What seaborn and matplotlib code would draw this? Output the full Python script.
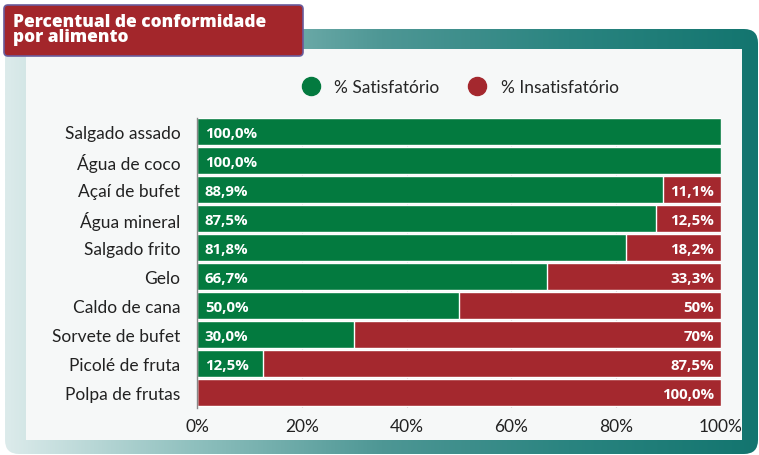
import matplotlib
matplotlib.use('Agg')
import matplotlib.pyplot as plt
import seaborn as sns
import numpy as np
import pandas as pd
from matplotlib.colors import LinearSegmentedColormap
from matplotlib.patches import FancyBboxPatch, Rectangle
from matplotlib.lines import Line2D

# data
categories = ['Salgado assado', 'Água de coco', 'Açaí de bufet', 'Água mineral',
              'Salgado frito', 'Gelo', 'Caldo de cana', 'Sorvete de bufet',
              'Picolé de fruta', 'Polpa de frutas']
satisfatorio = [100, 100, 88.9, 87.5, 81.8, 66.7, 50, 30, 12.5, 0]
insatisfatorio = [0, 0, 11.1, 12.5, 18.2, 33.3, 50, 70, 87.5, 100]
sat_labels = ['100,0%', '100,0%', '88,9%', '87,5%', '81,8%', '66,7%',
              '50,0%', '30,0%', '12,5%', '']
ins_labels = ['', '', '11,1%', '12,5%', '18,2%', '33,3%', '50%', '70%',
              '87,5%', '100,0%']
xticks = [0, 20, 40, 60, 80, 100]
xtick_labels = ['0%', '20%', '40%', '60%', '80%', '100%']

green = '#037a3f'
red = '#a4282e'

sns.set_style('white')
plt.rcParams['font.family'] = ['Open Sans', 'DejaVu Sans']

W, H = 759, 456
fig = plt.figure(figsize=(W / 100, H / 100), dpi=100)
fig.patch.set_facecolor('white')

# background frame
bg = fig.add_axes([0, 0, 1, 1])
bg.set_xlim(0, W)
bg.set_ylim(H, 0)
bg.axis('off')
cmap = LinearSegmentedColormap.from_list(
    'frame', ['#dcebeb', '#8fc0be', '#4e9795', '#2a8480', '#13756f'])
grad = np.linspace(0, 1, 256).reshape(1, -1)
frame = FancyBboxPatch((5, 30), 753, 425, boxstyle='round,pad=0,rounding_size=14',
                       facecolor='none', edgecolor='none')
bg.add_patch(frame)
img = bg.imshow(grad, cmap=cmap, extent=[5, 758, 455, 30], aspect='auto')
img.set_clip_path(frame)
bg.add_patch(Rectangle((26, 50), 716, 391, facecolor='#f6f8f8', edgecolor='none'))

# title box
title_box = FancyBboxPatch((4, 6), 299, 51, boxstyle='round,pad=0,rounding_size=4',
                           facecolor='#a3262b', edgecolor='#6a5c9c', linewidth=1.2)
bg.add_patch(title_box)
bg.text(13, 30, 'Percentual de conformidade\npor alimento', color='white',
        fontsize=12.4, fontweight='heavy', va='center', ha='left',
        linespacing=0.85)

# legend
handles = [Line2D([], [], marker='o', linestyle='', color=green, markersize=13),
           Line2D([], [], marker='o', linestyle='', color=red, markersize=13)]
fig.legend(handles, ['% Satisfatório', '% Insatisfatório'], loc='center',
           bbox_to_anchor=(456 / W, 1 - 88 / H), ncol=2, frameon=False,
           handletextpad=0.35, columnspacing=1.2,
           prop={'family': ['Lato', 'DejaVu Sans'], 'size': 12.5})

# chart
df = pd.DataFrame({'alimento': categories, 'sat': satisfatorio,
                   'total': np.array(satisfatorio) + np.array(insatisfatorio)})
ax = fig.add_axes([197 / W, 1 - 409 / H, 524 / W, 290 / H])
ax.set_facecolor('#f6f8f8')
sns.barplot(data=df, x='total', y='alimento', color=red, width=0.94,
            saturation=1, ax=ax, zorder=2)
sns.barplot(data=df, x='sat', y='alimento', color=green, width=0.94,
            saturation=1, ax=ax, zorder=3)
ax.set_xlim(0, 100)
ax.set_ylim(len(categories) - 0.47, -0.47)
ax.set_xticks(xticks)
ax.set_xticklabels(xtick_labels)
ax.xaxis.grid(True, color='#d3d3d3', linewidth=0.8, zorder=0)
ax.set_axisbelow(True)
ax.set_xlabel('')
ax.set_ylabel('')
ax.tick_params(axis='both', colors='#222222', length=0)
ax.tick_params(axis='y', pad=12)
ax.tick_params(axis='x', pad=7)
for lbl in ax.get_yticklabels() + ax.get_xticklabels():
    lbl.set_family(['Lato', 'DejaVu Sans'])
    lbl.set_fontsize(12.5)
for s in ['top', 'right', 'bottom']:
    ax.spines[s].set_visible(False)
ax.spines['left'].set_color('#888888')
ax.spines['left'].set_linewidth(1)
ax.spines['left'].set_zorder(5)

for i, (sl, il) in enumerate(zip(sat_labels, ins_labels)):
    if sl:
        ax.text(1.5, i + 0.05, sl, color='white', fontsize=10.8, fontweight='bold',
                ha='left', va='center', zorder=6)
    if il:
        ax.text(98.7, i + 0.05, il, color='white', fontsize=10.8, fontweight='bold',
                ha='right', va='center', zorder=6)

fig.savefig('out.png', dpi=100)
